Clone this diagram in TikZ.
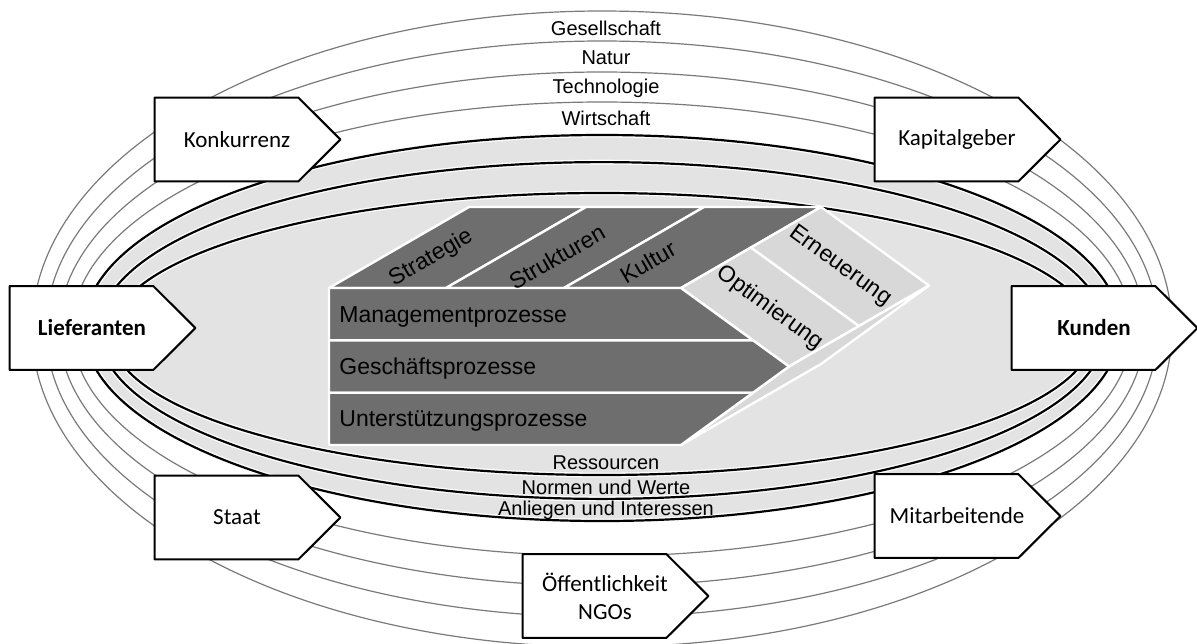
\documentclass[tikz,border=0pt]{standalone}
\usepackage{fontspec}
\setmainfont{Liberation Sans}
\newfontfamily\boxfont{Carlito}
\usepackage{tikz}

\definecolor{ringfill}{HTML}{E3E3E3}
\definecolor{ringline}{HTML}{7A7A7A}
\definecolor{darkface}{HTML}{6E6E6E}
\definecolor{lightface}{HTML}{D8D8D8}

\pgfdeclarelayer{back}
\pgfdeclarelayer{mid}
\pgfsetlayers{back,mid,main}

\tikzset{
  actor/.style={rectangle, minimum width=82pt, minimum height=41.5pt, inner sep=0pt, align=center,
    font=\boxfont\fontsize{11.5}{14}\selectfont},
  boldactor/.style={actor, font=\boxfont\bfseries\fontsize{11.5}{14}\selectfont},
  actor edge/.style={draw=black, line width=1pt, fill=white, line join=round},
  ringlabel/.style={font=\fontsize{10}{12}\selectfont, inner sep=1pt},
  face/.style={draw=white, line width=1.2pt, line join=round},
  bandlabel/.style={font=\fontsize{11.5}{13}\selectfont, inner sep=0pt}
}

\begin{document}
\begin{tikzpicture}[x=0.5pt, y=-0.5pt]
  \useasboundingbox (0,0) rectangle (1197,643);

  \begin{pgfonlayer}{back}
  % Umfeld: aeussere und innere Ellipsen
  \fill[ringfill] (602,328) ellipse [x radius=259pt, y radius=96.5pt];
  \foreach \a/\b in {285pt/159pt, 278pt/144pt, 271.5pt/128.5pt, 265pt/113.5pt}
    \draw[ringline, line width=0.6pt] (602,329) ellipse [x radius=\a, y radius=\b];
  \foreach \cy/\a/\b in {328/259pt/96.5pt, 330.5/251.5pt/84.2pt, 334/245.5pt/70.5pt}{
    \draw[white, line width=2.4pt] (602,\cy) ellipse [x radius=\a, y radius=\b];
    \draw[black, line width=1.1pt] (602,\cy) ellipse [x radius=\a, y radius=\b];
  }

  % Prisma: Deckflaeche
  \filldraw[face, fill=darkface] (329,288) -- (446,288) -- (586,207) -- (469,207) -- cycle;
  \filldraw[face, fill=darkface] (446,288) -- (564,288) -- (704,207) -- (586,207) -- cycle;
  \filldraw[face, fill=darkface] (564,288) -- (681,288) -- (821,207) -- (704,207) -- cycle;
  % Prisma: Seitenflaeche
  \filldraw[face, fill=lightface] (681,288) -- (789,366.5) -- (859,326) -- (751,247.5) -- cycle;
  \filldraw[face, fill=lightface] (751,247.5) -- (859,326) -- (929,285.5) -- (821,207) -- cycle;
  \filldraw[face, fill=lightface] (789,366.5) -- (929,285.5) -- (821,364) -- (681,445) -- cycle;
  % Prisma: Prozessbaender
  \filldraw[face, fill=darkface] (329,288) -- (681,288) -- (753,340.3) -- (329,340.3) -- cycle;
  \filldraw[face, fill=darkface] (329,340.3) -- (753,340.3) -- (789,366.5) -- (753,392.7) -- (329,392.7) -- cycle;
  \filldraw[face, fill=darkface] (329,392.7) -- (753,392.7) -- (681,445) -- (329,445) -- cycle;
  \end{pgfonlayer}

  \node[bandlabel, anchor=west] (mgmt) at (339,317) {Managementprozesse};
  \node[bandlabel, anchor=west] (gesch) at (339,369) {Geschäftsprozesse};
  \node[bandlabel, anchor=west] (unter) at (339,421) {Unterstützungsprozesse};
  \node[bandlabel, rotate=30] (strat) at (431,258) {Strategie};
  \node[bandlabel, rotate=30] (struk) at (557,257) {Strukturen};
  \node[bandlabel, rotate=30] (kult) at (648,262) {Kultur};
  \node[bandlabel, rotate=-36] (opt) at (770,308) {Optimierung};
  \node[bandlabel, rotate=-36] (ern) at (840,266) {Erneuerung};

  % Beschriftung der Sphaeren
  \node[ringlabel] (ges) at (606,28) {Gesellschaft};
  \node[ringlabel] (nat) at (606,58) {Natur};
  \node[ringlabel] (tech) at (606,88) {Technologie};
  \node[ringlabel] (wirt) at (606,118) {Wirtschaft};
  \node[ringlabel] (ress) at (606,463) {Ressourcen};
  \node[ringlabel] (norm) at (606,487) {Normen und Werte};
  \node[ringlabel] (anl) at (606,510) {Anliegen und Interessen};

  % Anspruchsgruppen
  \node[actor] (konk) at (237,139.5) {Konkurrenz};
  \node[actor] (kap) at (957,139.5) {Kapitalgeber};
  \node[boldactor] (lief) at (92,328) {Lieferanten};
  \node[boldactor] (kund) at (1094,328) {Kunden};
  \node[actor] (staat) at (237,517.5) {Staat};
  \node[actor] (mit) at (957,516) {Mitarbeitende};
  \node[actor] (oeff) at (605,596) {Öffentlichkeit\\NGOs};

  \begin{pgfonlayer}{mid}
  \foreach \n in {konk,kap,lief,kund,staat,mit,oeff}
    \filldraw[actor edge] (\n.north west) -- ([xshift=-10.5pt]\n.north east)
      -- ([xshift=10.5pt]\n.east) -- ([xshift=-10.5pt]\n.south east) -- (\n.south west) -- cycle;
  \end{pgfonlayer}
\end{tikzpicture}
\end{document}
